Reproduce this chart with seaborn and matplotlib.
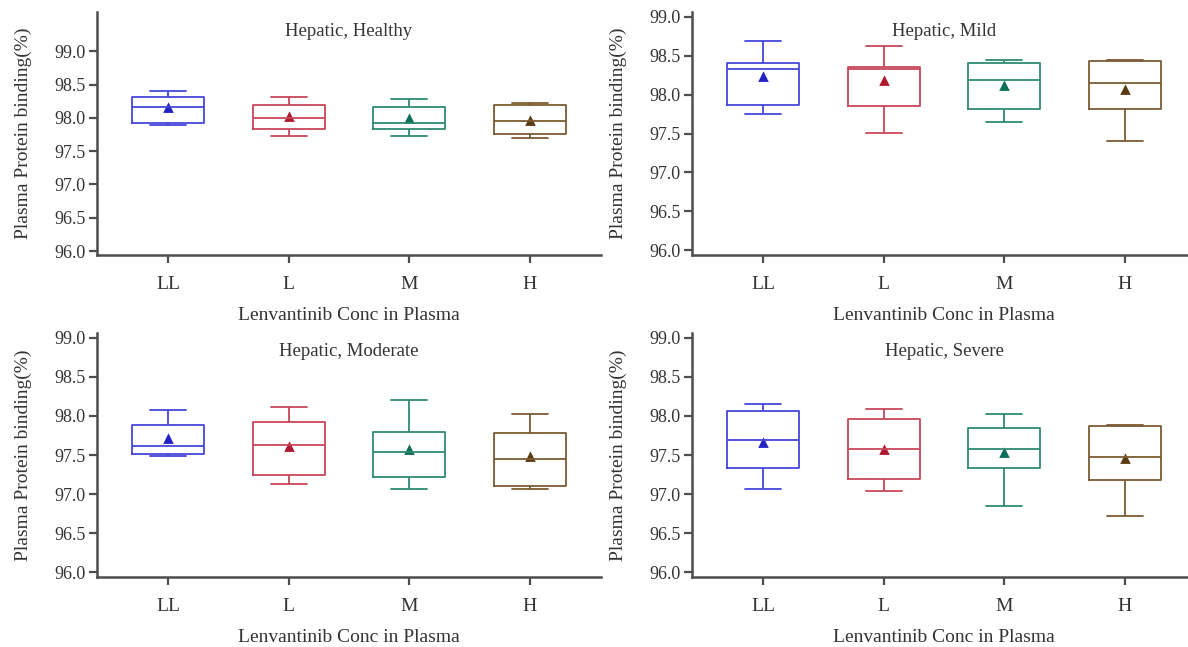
import numpy as np
import pandas as pd
import matplotlib
matplotlib.use("Agg")
import matplotlib.pyplot as plt
import seaborn as sns

# Panel titles and concentration levels
panels = ["Hepatic, Healthy", "Hepatic, Mild", "Hepatic, Moderate", "Hepatic, Severe"]
concs = ["LL", "L", "M", "H"]

# Box summaries per panel (rows) and concentration (columns)
whisker_low = [
    [97.90, 97.72, 97.72, 97.69],
    [97.75, 97.51, 97.65, 97.41],
    [97.49, 97.13, 97.07, 97.07],
    [97.07, 97.04, 96.85, 96.72],
]
q1 = [
    [97.93, 97.84, 97.84, 97.75],
    [97.87, 97.85, 97.82, 97.82],
    [97.51, 97.24, 97.22, 97.10],
    [97.33, 97.19, 97.33, 97.18],
]
median = [
    [98.16, 98.00, 97.93, 97.96],
    [98.33, 98.33, 98.19, 98.15],
    [97.62, 97.63, 97.54, 97.45],
    [97.69, 97.58, 97.58, 97.48],
]
q3 = [
    [98.31, 98.20, 98.17, 98.19],
    [98.41, 98.36, 98.41, 98.43],
    [97.88, 97.92, 97.80, 97.78],
    [98.06, 97.96, 97.84, 97.87],
]
whisker_high = [
    [98.40, 98.31, 98.29, 98.22],
    [98.69, 98.62, 98.45, 98.44],
    [98.07, 98.11, 98.20, 98.03],
    [98.15, 98.09, 98.03, 97.89],
]
means = [
    [98.15, 98.02, 97.98, 97.95],
    [98.23, 98.17, 98.11, 98.06],
    [97.70, 97.60, 97.56, 97.47],
    [97.65, 97.56, 97.53, 97.45],
]

# Upper y limit of each panel
y_top = [99.59, 99.06, 99.06, 99.06]
y_ticks = [96.0, 96.5, 97.0, 97.5, 98.0, 98.5, 99.0]

box_colors = ["#4646dc", "#c8465a", "#2e8a72", "#7d5a34"]
mean_colors = ["#2222c4", "#b01830", "#0c6e58", "#5a3a12"]

sns.set_theme(style="ticks")
plt.rcParams["font.family"] = ["Liberation Serif", "DejaVu Serif"]

fig = plt.figure(figsize=(11.88, 6.47), dpi=100)
W, H = 1188.0, 647.0
# axes frames in pixels: (left, top, right, bottom)
frames = [(97, 12, 601, 255), (692, 12, 1196, 255),
          (97, 333, 601, 577), (692, 333, 1196, 577)]

spine_col = "#4d4d4d"
text_col = "#333333"
for i, title in enumerate(panels):
    l, t, r, b = frames[i]
    ax = fig.add_axes([l / W, 1 - b / H, (r - l) / W, (b - t) / H])

    rows = []
    for j, c in enumerate(concs):
        for v in (whisker_low[i][j], q1[i][j], median[i][j], q3[i][j], whisker_high[i][j]):
            rows.append({"conc": c, "value": v})
    df = pd.DataFrame(rows)

    sns.boxplot(data=df, x="conc", y="value", hue="conc", order=concs, hue_order=concs,
                palette=box_colors, fill=False, whis=(0, 100), width=0.6,
                saturation=1, linewidth=1.3, legend=False, ax=ax)

    sns.pointplot(x=concs, y=means[i], hue=concs, order=concs, hue_order=concs,
                  palette=mean_colors, markers="^", linestyles="none",
                  errorbar=None, legend=False, markersize=4.5, ax=ax)

    ax.set_xlim(-0.59, 3.59)
    ax.set_ylim(95.94, y_top[i])
    ax.set_yticks(y_ticks)
    ax.set_yticklabels([f"{v:.1f}" for v in y_ticks])

    for s in ("top", "right"):
        ax.spines[s].set_visible(False)
    for s in ("left", "bottom"):
        ax.spines[s].set_color(spine_col)
        ax.spines[s].set_linewidth(1.8)

    ax.tick_params(axis="x", direction="out", length=6, width=1.6, color=spine_col,
                   pad=9, labelsize=14, labelcolor=text_col)
    ax.tick_params(axis="y", direction="out", length=6, width=1.6, color=spine_col,
                   pad=2, labelsize=13, labelcolor=text_col)

    ax.set_xlabel("Lenvantinib Conc in Plasma", fontsize=14, color=text_col, labelpad=10)
    ax.set_ylabel("Plasma Protein binding(%)", fontsize=14, color=text_col, labelpad=16)
    ax.text(0.5, 1 - 19 / (b - t), title, transform=ax.transAxes, ha="center", va="center",
            fontsize=13.5, color=text_col)

fig.savefig("out.png", dpi=100)
